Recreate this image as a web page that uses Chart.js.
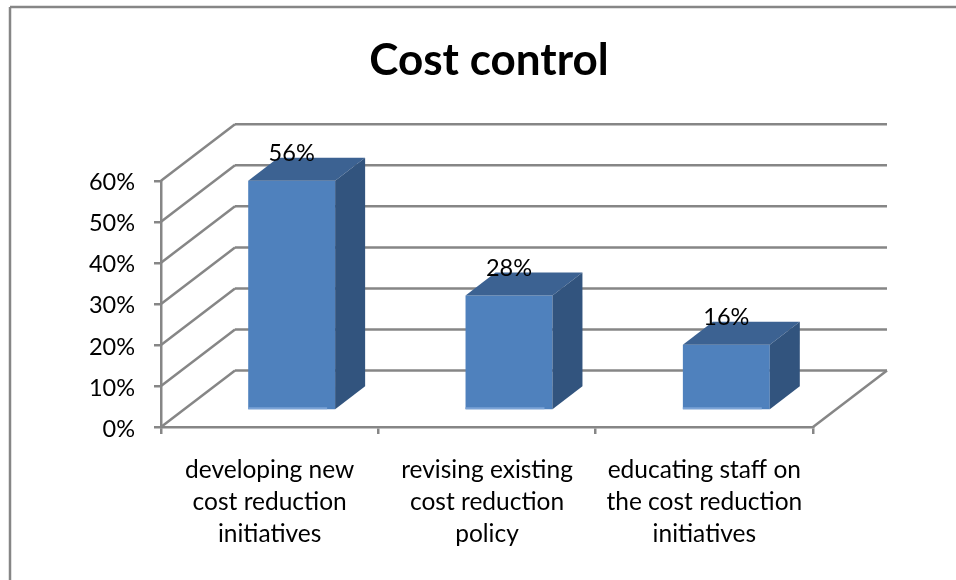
<!DOCTYPE html>
<html>
<head>
<meta charset="utf-8">
<title>Cost control</title>
<script src="https://cdn.jsdelivr.net/npm/chart.js@4"></script>
<style>
  html, body { margin: 0; padding: 0; background: #fff; }
  canvas { display: block; }
</style>
</head>
<body>
<canvas id="chart" width="956" height="580"></canvas>
<script>
// data
const categories = [
  ['developing new', 'cost reduction', 'initiatives'],
  ['revising existing', 'cost reduction', 'policy'],
  ['educating staff on', 'the cost reduction', 'initiatives']
];
const values = [56, 28, 16];

// 3d look
const wallDepth = { x: 74, y: 56.5 };
const barShift = { x: 22, y: 16.5 };
const barDepth = { x: 30, y: 23 };
const gridColor = '#868686';
const fontName = 'Lato, "Open Sans", sans-serif';

function line(ctx, x1, y1, x2, y2) {
  ctx.beginPath();
  ctx.moveTo(x1, y1);
  ctx.lineTo(x2, y2);
  ctx.stroke();
}

function poly(ctx, pts, color) {
  ctx.fillStyle = color;
  ctx.beginPath();
  pts.forEach((p, i) => i ? ctx.lineTo(p[0], p[1]) : ctx.moveTo(p[0], p[1]));
  ctx.closePath();
  ctx.fill();
}

// frame, walls and floor behind the bars
const wallsPlugin = {
  id: 'walls',
  beforeDatasetsDraw(chart) {
    const ctx = chart.ctx;
    const area = chart.chartArea;
    const yScale = chart.scales.y;
    ctx.save();
    ctx.strokeStyle = gridColor;
    ctx.lineWidth = 2.5;
    line(ctx, 10, 7, 956, 7);
    line(ctx, 10, 7, 10, 580);
    yScale.ticks.forEach(t => {
      const y = yScale.getPixelForValue(t.value);
      line(ctx, area.left, y, area.left + wallDepth.x, y - wallDepth.y);
      line(ctx, area.left + wallDepth.x, y - wallDepth.y, area.right + wallDepth.x, y - wallDepth.y);
    });
    line(ctx, area.right, area.bottom, area.right + wallDepth.x, area.bottom - wallDepth.y);
    ctx.restore();
  },
  // the bars sit in the middle of the floor, so move the real bars back
  beforeDatasetDraw(chart) {
    chart.ctx.save();
    chart.ctx.translate(barShift.x, -barShift.y);
  },
  afterDatasetDraw(chart, args) {
    const ctx = chart.ctx;
    const bars = chart.getDatasetMeta(args.index).data;
    bars.forEach(bar => {
      const l = bar.x - bar.width / 2;
      const r = bar.x + bar.width / 2;
      const dx = barDepth.x, dy = barDepth.y;
      poly(ctx, [[l, bar.y], [r, bar.y], [r + dx, bar.y - dy], [l + dx, bar.y - dy]], '#3c6292');
      poly(ctx, [[r, bar.y], [r + dx, bar.y - dy], [r + dx, bar.base - dy], [r, bar.base]], '#32547e');
      ctx.fillStyle = '#7ba3d6';
      ctx.fillRect(l, bar.base - 2, bar.width - 8, 2);
    });
    ctx.restore();
  },
  // value labels on top of everything
  afterDatasetsDraw(chart) {
    const ctx = chart.ctx;
    ctx.save();
    ctx.fillStyle = '#000';
    ctx.font = '23.5px ' + fontName;
    ctx.textAlign = 'center';
    ctx.textBaseline = 'middle';
    chart.getDatasetMeta(0).data.forEach((bar, i) => {
      ctx.fillText(values[i] + '%', bar.x + barShift.x, bar.y - barShift.y - 27);
    });
    ctx.restore();
  }
};

new Chart(document.getElementById('chart'), {
  type: 'bar',
  data: {
    labels: categories,
    datasets: [{
      data: values,
      backgroundColor: '#4f81bd',
      barPercentage: 0.4,
      categoryPercentage: 1
    }]
  },
  options: {
    responsive: false,
    animation: false,
    layout: { padding: { left: 22 } },
    plugins: {
      legend: { display: false },
      tooltip: { enabled: false },
      title: {
        display: true,
        text: 'Cost control',
        color: '#000',
        font: { family: fontName, size: 44, weight: 'bold', lineHeight: 1.2 },
        padding: { top: 34, bottom: 94 }
      }
    },
    scales: {
      x: {
        offset: true,
        afterFit(scale) { scale.height = 153; },
        grid: { drawOnChartArea: false, color: gridColor, lineWidth: 2.5, tickLength: 7, offset: true },
        border: { color: gridColor, width: 2.5 },
        ticks: {
          autoSkip: false, maxRotation: 0, color: '#000', padding: 20,
          font: { family: fontName, size: 24.5, lineHeight: 32 / 24.5 }
        }
      },
      y: {
        min: 0,
        max: 60,
        afterFit(scale) { scale.width = 139; },
        grid: { drawOnChartArea: false, color: gridColor, lineWidth: 2.5, tickLength: 7 },
        border: { color: gridColor, width: 2.5 },
        ticks: {
          stepSize: 10, color: '#000', padding: 19, labelOffset: 2,
          font: { family: fontName, size: 23.5 },
          callback: v => v + '%'
        }
      },
      // only here to keep the plot away from the right edge
      spacer: {
        position: 'right',
        display: true,
        afterFit(scale) { scale.width = 143; },
        grid: { display: false },
        border: { display: false },
        ticks: { display: false }
      }
    }
  },
  plugins: [wallsPlugin]
});
</script>
</body>
</html>
